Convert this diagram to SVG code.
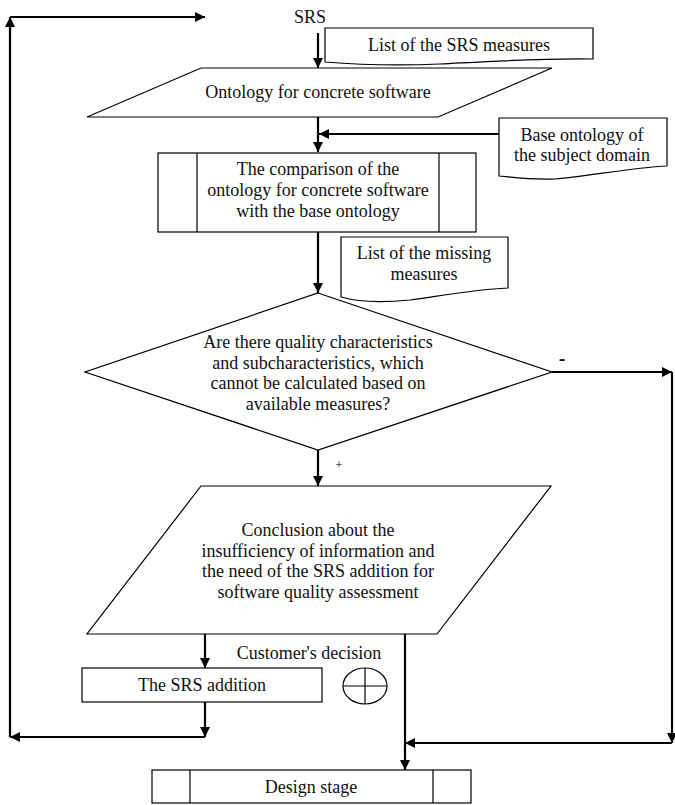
<svg xmlns="http://www.w3.org/2000/svg" width="675" height="805" viewBox="0 0 675 805">
<style>
.shape{fill:#fff;stroke:#000;stroke-width:1.2}
.conn{fill:none;stroke:#000;stroke-width:2.2}
text{font-family:"Liberation Serif","Times New Roman",serif;font-size:18px;fill:#111;text-anchor:middle}
.sign{font-weight:bold}
</style>
<defs>
<marker id="ah" viewBox="0 0 10 10" refX="10" refY="5" markerWidth="10" markerHeight="10" markerUnits="userSpaceOnUse" orient="auto">
<path d="M0,0 L10,5 L0,10 Z" fill="#000"/>
</marker>
</defs>
<rect width="675" height="805" fill="#fff"/>
<g id="connectors">
<path class="conn" d="M318,33 V68" marker-end="url(#ah)"/>
<path class="conn" d="M318,117 V152" marker-end="url(#ah)"/>
<path class="conn" d="M499,134 H319" marker-end="url(#ah)"/>
<path class="conn" d="M318,232 V293" marker-end="url(#ah)"/>
<path class="conn" d="M318,450 V486" marker-end="url(#ah)"/>
<path class="conn" d="M552,372 H672" marker-end="url(#ah)"/>
<path class="conn" d="M672,372 V743" marker-end="url(#ah)"/>
<path class="conn" d="M672,743 H405" marker-end="url(#ah)"/>
<path class="conn" d="M405,634 V770" marker-end="url(#ah)"/>
<path class="conn" d="M205,634 V668" marker-end="url(#ah)"/>
<path class="conn" d="M205,702 V737" marker-end="url(#ah)"/>
<path class="conn" d="M205,737 H10" marker-end="url(#ah)"/>
<path class="conn" d="M10,737 V17" marker-end="url(#ah)"/>
<path class="conn" d="M10,17 H205" marker-end="url(#ah)"/>
<text class="sign" x="562" y="365" style="font-size:20px">-</text>
<text x="339" y="469" style="font-size:13px;fill:#000">+</text>
<text x="309" y="659">Customer's decision</text>
</g>
<g id="srs"><text x="310" y="23">SRS</text></g>
<g id="srs-measures">
<path class="shape" d="M325,28 H593 V59 C540,58 480,62 440,64 C390,66 350,64 325,62 Z"/>
<text x="459" y="51">List of the SRS measures</text>
</g>
<g id="ontology">
<polygon class="shape" points="201,68 552,68 438,117 87,117"/>
<text x="318" y="98">Ontology for concrete software</text>
</g>
<g id="base-ontology">
<path class="shape" d="M499,118 H667 V166 C630,168 590,176 555,179 C530,180 510,177 499,176 Z"/>
<text x="582" y="141">Base ontology of</text>
<text x="582" y="161">the subject domain</text>
</g>
<g id="comparison">
<rect class="shape" x="158" y="153" width="318" height="79"/>
<line class="shape" x1="197" y1="153" x2="197" y2="232"/>
<line class="shape" x1="439" y1="153" x2="439" y2="232"/>
<text x="318" y="175">The comparison of the</text>
<text x="318" y="196">ontology for concrete software</text>
<text x="318" y="217">with the base ontology</text>
</g>
<g id="missing-measures">
<path class="shape" d="M341,237 H508 V288 C470,290 440,296 410,300 C380,303 355,301 341,297 Z"/>
<text x="424" y="259">List of the missing</text>
<text x="424" y="280">measures</text>
</g>
<g id="decision">
<polygon class="shape" points="318,293 552,372 318,450 85,372"/>
<text x="318" y="348">Are there quality characteristics</text>
<text x="318" y="368.5">and subcharacteristics, which</text>
<text x="318" y="389">cannot be calculated based on</text>
<text x="318" y="409.5">available measures?</text>
</g>
<g id="conclusion">
<polygon class="shape" points="201,486 551,486 437,634 87,634"/>
<text x="318" y="536">Conclusion about the</text>
<text x="318" y="556.5">insufficiency of information and</text>
<text x="318" y="577">the need of the SRS addition for</text>
<text x="318" y="597.5">software quality assessment</text>
</g>
<g id="srs-addition">
<rect class="shape" x="82" y="668" width="240" height="34"/>
<text x="202" y="691">The SRS addition</text>
</g>
<g id="xor">
<ellipse class="shape" cx="365" cy="686" rx="22" ry="18"/>
<line class="shape" x1="343" y1="686" x2="387" y2="686"/>
<line class="shape" x1="365" y1="668" x2="365" y2="704"/>
</g>
<g id="design-stage">
<rect class="shape" x="152" y="770" width="319" height="33"/>
<line class="shape" x1="190" y1="770" x2="190" y2="803"/>
<line class="shape" x1="433" y1="770" x2="433" y2="803"/>
<text x="311" y="793">Design stage</text>
</g>
</svg>
